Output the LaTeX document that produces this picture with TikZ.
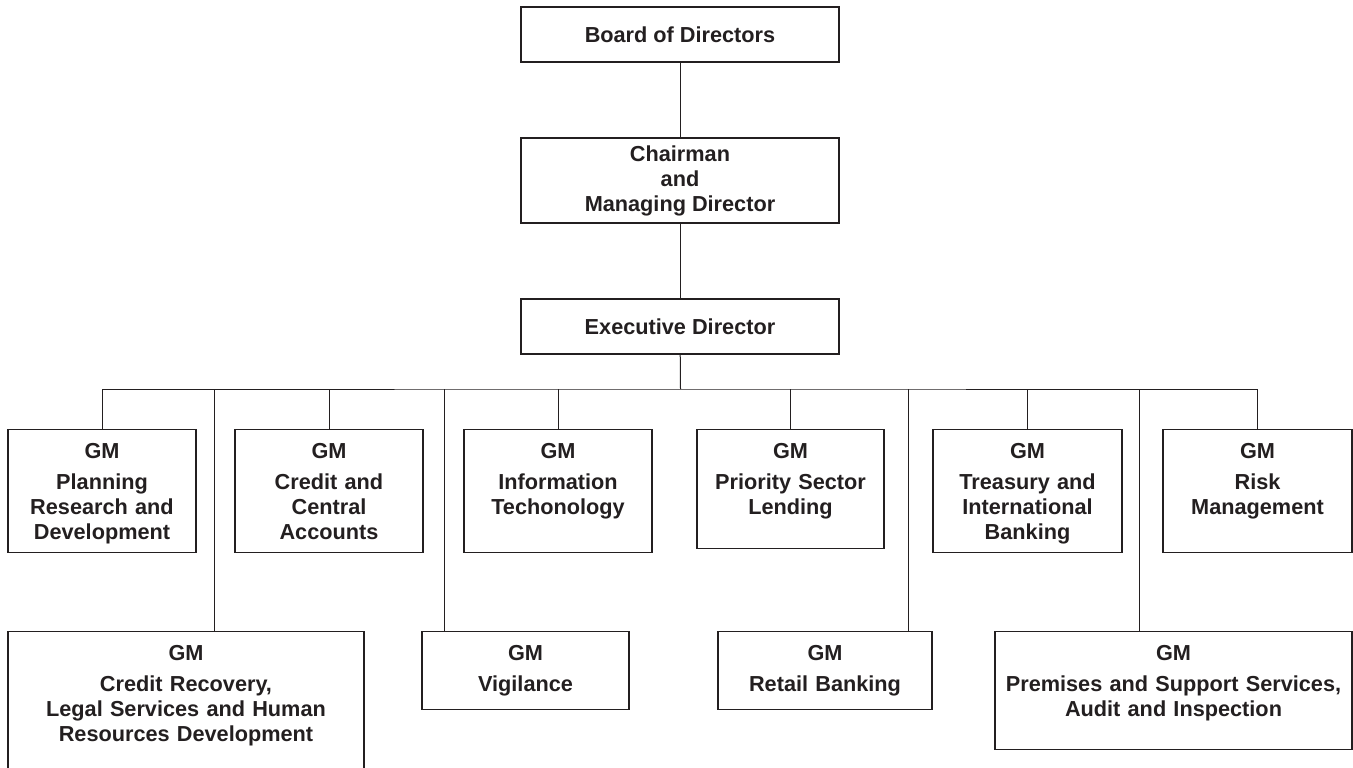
\documentclass[tikz,border=0pt]{standalone}
\usepackage{fontspec}
\setmainfont{Liberation Sans}
\usepackage{tikz}
\definecolor{ink}{RGB}{35,31,32}

\tikzset{
    headbox/.style={draw=ink, line width=1.3pt, minimum width=318pt, inner sep=0pt,
        align=center, text=ink, font=\fontsize{21.7}{25}\selectfont\bfseries},
    gmbox/.style 2 args={draw=ink, line width=1.3pt, anchor=north, inner sep=0pt,
        text width=#1, text height=29pt, text depth=#2, align=center, text=ink,
        font=\fontsize{21.7}{25}\selectfont\bfseries},
    link/.style={draw=ink, line width=1pt}
}

\begin{document}
\begin{tikzpicture}[x=1pt, y=-1pt]
    \useasboundingbox (0,0) rectangle (1353,768);

    % top of the chart
    \node [headbox, minimum height=55pt] (board) at (680,34.5) {Board of Directors};
    \node [headbox, minimum height=85pt] (cmd) at (680,180.5) {Chairman\\and\\Managing Director};
    \node [headbox, minimum height=55pt] (exec) at (680,326.5) {Executive Director};

    % first row of general managers
    \node [gmbox={188pt}{94pt}] (planning) at (102,429) {GM\\[6pt]Planning\\Research and\\Development};
    \node [gmbox={188pt}{94pt}] (credit) at (329,429) {GM\\[6pt]Credit and\\Central\\Accounts};
    \node [gmbox={188pt}{94pt}] (infotech) at (558,429) {GM\\[6pt]Information\\Techonology};
    \node [gmbox={187pt}{90pt}] (priority) at (790.5,429) {GM\\[6pt]Priority Sector\\Lending};
    \node [gmbox={189pt}{94pt}] (treasury) at (1027.5,429) {GM\\[6pt]Treasury and\\International\\Banking};
    \node [gmbox={189pt}{94pt}] (risk) at (1257.5,429) {GM\\[6pt]Risk\\Management};

    % second row of general managers
    \node [gmbox={356pt}{109pt}] (recovery) at (186,631) {GM\\[6pt]Credit Recovery,\\Legal Services and Human\\Resources Development};
    \node [gmbox={207pt}{49pt}] (vigilance) at (525.5,631) {GM\\[6pt]Vigilance};
    \node [gmbox={214pt}{49pt}] (retail) at (825,631) {GM\\[6pt]Retail Banking};
    \node [gmbox={357pt}{89pt}] (premises) at (1173.5,631) {GM\\[6pt]Premises and Support Services,\\Audit and Inspection};

    % bus line and drop points
    \coordinate (bus) at (680.5,389);
    \coordinate (dropA) at (214,389);
    \coordinate (dropB) at (444.5,389);
    \coordinate (dropC) at (908,389);
    \coordinate (dropD) at (1139,389);

    \draw [link] (board) -- (cmd);
    \draw [link] (cmd) -- (exec);
    \draw [link] (exec) -- (bus);
    \draw [link] (planning.north) |- (bus) -| (risk.north);
    \draw [link] (credit.north) -- (credit.north |- bus);
    \draw [link] (infotech.north) -- (infotech.north |- bus);
    \draw [link] (priority.north) -- (priority.north |- bus);
    \draw [link] (treasury.north) -- (treasury.north |- bus);

    \draw [link] (dropA) -- (dropA |- recovery.north);
    \draw [link] (dropB) -- (dropB |- vigilance.north);
    \draw [link] (dropC) -- (dropC |- retail.north);
    \draw [link] (dropD) -- (dropD |- premises.north);
\end{tikzpicture}
\end{document}
